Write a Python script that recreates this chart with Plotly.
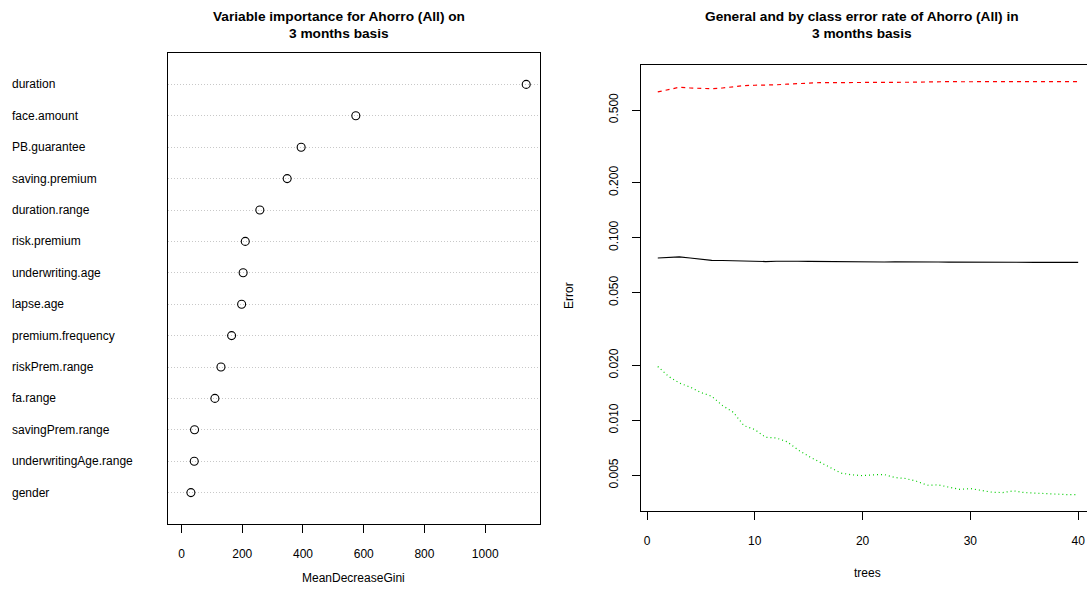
import plotly.graph_objects as go

# ---- Left panel data: variable importance (MeanDecreaseGini) ----
variables = ["duration", "face.amount", "PB.guarantee", "saving.premium", "duration.range",
             "risk.premium", "underwriting.age", "lapse.age", "premium.frequency",
             "riskPrem.range", "fa.range", "savingPrem.range", "underwritingAge.range", "gender"]
gini = [1135, 574, 394, 348, 258, 210, 203, 198, 165, 130, 110, 43, 42, 31]
gini_ticks = [0, 200, 400, 600, 800, 1000]

# ---- Right panel data: error rates by number of trees ----
trees = list(range(1, 41))
err_oob = [0.0774, 0.0780, 0.0784, 0.0774, 0.0764, 0.0752, 0.0750, 0.0747, 0.0746, 0.0745,
           0.0740, 0.0743, 0.0745, 0.0743, 0.0742, 0.0741, 0.0739, 0.0736, 0.0735, 0.0733,
           0.0735, 0.0736, 0.0737, 0.0738, 0.0738, 0.0737, 0.0736, 0.0735, 0.0734, 0.0733,
           0.0733, 0.0733, 0.0733, 0.0733, 0.0733, 0.0733, 0.0733, 0.0733, 0.0733, 0.0733]
err_class1 = [0.628, 0.645, 0.666, 0.660, 0.654, 0.654, 0.660, 0.671, 0.680, 0.683,
              0.683, 0.687, 0.693, 0.699, 0.702, 0.706, 0.706, 0.706, 0.704, 0.704,
              0.704, 0.706, 0.706, 0.706, 0.710, 0.712, 0.715, 0.715, 0.714, 0.714,
              0.714, 0.713, 0.714, 0.715, 0.717, 0.716, 0.716, 0.716, 0.716, 0.716]
err_class2 = [0.0197, 0.0174, 0.0160, 0.0152, 0.0142, 0.01355, 0.01205, 0.01107, 0.00935, 0.0089,
              0.00807, 0.0080, 0.00763, 0.0069, 0.00635, 0.00593, 0.00552, 0.00514, 0.00503, 0.00498,
              0.00503, 0.00505, 0.00486, 0.00480, 0.00464, 0.00441, 0.00443, 0.00430, 0.00419, 0.00423,
              0.00413, 0.00404, 0.00402, 0.00411, 0.00402, 0.00399, 0.00395, 0.00392, 0.00392, 0.00392]
tree_ticks = [0, 10, 20, 30, 40]
err_ticks = [0.005, 0.010, 0.020, 0.050, 0.100, 0.200, 0.500]
err_ticktext = ["0.005", "0.010", "0.020", "0.050", "0.100", "0.200", "0.500"]

W, H = 1087, 595
FONT = "Liberation Sans, Arial, Helvetica, sans-serif"

n = len(variables)
ypos = list(range(n, 0, -1))

fig = go.Figure()

fig.add_trace(go.Scatter(
    x=gini, y=ypos, mode="markers", xaxis="x", yaxis="y",
    marker=dict(symbol="circle-open", size=8, color="black", line=dict(width=1.1, color="black")),
    showlegend=False, hoverinfo="x+text", text=variables))

fig.add_trace(go.Scatter(x=trees, y=err_oob, mode="lines", xaxis="x2", yaxis="y2",
                         line=dict(color="black", width=1.2), showlegend=False))
fig.add_trace(go.Scatter(x=trees, y=err_class1, mode="lines", xaxis="x2", yaxis="y2",
                         line=dict(color="#FF0000", width=1.2, dash="4px,4px"), showlegend=False))
fig.add_trace(go.Scatter(x=trees, y=err_class2, mode="lines", xaxis="x2", yaxis="y2",
                         line=dict(color="#00CD00", width=1.2, dash="1px,3px"), showlegend=False))

def px_x(p):
    return p / W

def px_y(p):
    return 1 - p / H

annotations = []
for name, yv in zip(variables, ypos):
    annotations.append(dict(text=name, x=px_x(10), xref="paper", y=yv, yref="y",
                            xanchor="left", yanchor="middle", showarrow=False,
                            font=dict(size=12, color="black", family=FONT)))

def add_text(txt, x, y, size=12, bold=False, angle=0):
    annotations.append(dict(text=("<b>%s</b>" % txt) if bold else txt,
                            x=px_x(x), y=px_y(y), xref="paper", yref="paper",
                            xanchor="center", yanchor="middle", showarrow=False, textangle=angle,
                            font=dict(size=size, color="black", family=FONT)))

add_text("Variable importance for Ahorro (All) on", 339, 16, 13.7, True)
add_text("3 months basis", 339, 33, 13.7, True)
add_text("MeanDecreaseGini", 353, 578)
add_text("General and by class error rate of Ahorro (All) in", 862, 16, 13.7, True)
add_text("3 months basis", 862, 33, 13.7, True)
add_text("trees", 867, 573)
add_text("Error", 569, 296, 12, False, -90)

axis_common = dict(showline=True, linecolor="black", linewidth=1, zeroline=False,
                   ticks="outside", ticklen=8, tickcolor="black", tickwidth=1,
                   tickfont=dict(size=12, color="black", family=FONT))

fig.update_layout(
    width=W, height=H, margin=dict(l=0, r=0, t=0, b=0),
    paper_bgcolor="white", plot_bgcolor="white",
    font=dict(family=FONT, color="black"),
    annotations=annotations,
    xaxis=dict(domain=[px_x(167.7), px_x(540)], range=[-45.4, 1180.4], mirror=True,
               tickvals=gini_ticks, showgrid=False, anchor="y", ticklabelstandoff=11,
               **axis_common),
    yaxis=dict(domain=[px_y(524), px_y(53)], range=[0, n + 1], mirror=True, anchor="x",
               showline=True, linecolor="black", linewidth=1, zeroline=False,
               tickvals=ypos, showticklabels=False, ticks="",
               showgrid=True, gridcolor="#C8C8C8", griddash="1px,2px", gridwidth=1),
    xaxis2=dict(domain=[px_x(641), 1.0], range=[-0.557, 40.82], mirror=True,
                tickvals=tree_ticks, showgrid=False, anchor="y2", ticklabelstandoff=11,
                ticklabeloverflow="allow", **axis_common),
    yaxis2=dict(domain=[px_y(511), px_y(65)], type="log", range=[-2.4965, -0.0546],
                tickvals=err_ticks, ticktext=err_ticktext, tickangle=-90, showgrid=False,
                anchor="x2", mirror=False, ticklabelstandoff=9, **axis_common),
)

# remove the default 8px page margin so the figure fills the 1087x595 window exactly
fig.write_html("out.html", config={"displayModeBar": False},
               post_script="document.body.style.margin='0';")
